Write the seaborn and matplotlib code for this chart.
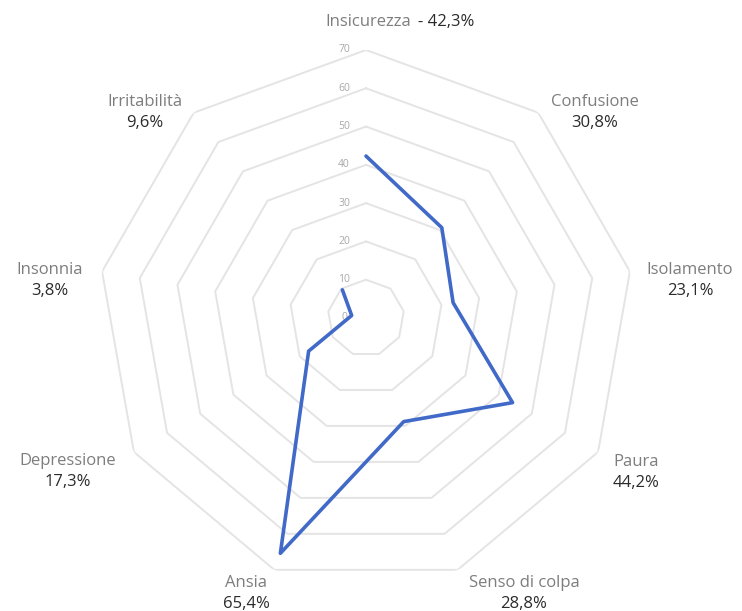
import numpy as np
import pandas as pd
import matplotlib
matplotlib.use("Agg")
import matplotlib.pyplot as plt
import seaborn as sns

categories = ["Insicurezza", "Confusione", "Isolamento", "Paura", "Senso di colpa",
              "Ansia", "Depressione", "Insonnia", "Irritabilità"]
values = [42.3, 30.8, 23.1, 44.2, 28.8, 65.4, 17.3, 3.8, 9.6]
value_labels = ["42,3%", "30,8%", "23,1%", "44,2%", "28,8%", "65,4%", "17,3%", "3,8%", "9,6%"]
ring_ticks = [0, 10, 20, 30, 40, 50, 60, 70]

sns.set_style("white")
plt.rcParams["font.family"] = ["Open Sans", "DejaVu Sans"]

W, H = 742, 611
fig = plt.figure(figsize=(W / 100, H / 100), dpi=100)
cx, cy, R = 366, 318, 268
ax = fig.add_axes([(cx - R) / W, (H - cy - R) / H, 2 * R / W, 2 * R / H], projection="polar")
ax.set_theta_offset(np.pi / 2)
ax.set_theta_direction(-1)
ax.set_ylim(0, 70)
ax.grid(False)
ax.spines["polar"].set_visible(False)
ax.set_xticks([])
ax.set_yticks([])

n = len(categories)
angles = np.linspace(0, 2 * np.pi, n, endpoint=False)
closed_angles = np.append(angles, angles[0])

grid_color = "#e4e4e4"
for r in ring_ticks[1:]:
    ax.plot(closed_angles, [r] * (n + 1), color=grid_color, lw=1.4, zorder=1)

for r in ring_ticks:
    ax.annotate(str(r), xy=(0, r), xytext=(-22, 0), textcoords="offset pixels",
                ha="center", va="center", fontsize=7.5, color="#a8a8a8", zorder=2)

df = pd.DataFrame({"theta": closed_angles, "value": values + [values[0]]})
sns.lineplot(data=df, x="theta", y="value", ax=ax, sort=False, color="#4169C8",
             lw=2.6, zorder=3)
ax.set_xlabel("")
ax.set_ylabel("")

name_color = "#7d7d7d"
val_color = "#2b2b2b"
fs = 12

def px(x, y):
    return x / W, 1 - y / H

# top label on one line
fig.text(*px(411, 22), categories[0], ha="right", va="center", fontsize=fs, color=name_color)
fig.text(*px(418, 22), "- " + value_labels[0], ha="left", va="center", fontsize=fs, color=val_color)

label_pos = [None, (595, 102), (690, 270), (636, 462), (524, 583), (246, 583),
             (68, 461), (50, 270), (145, 102)]
for i in range(1, n):
    x, y = label_pos[i]
    fig.text(*px(x, y), categories[i], ha="center", va="center", fontsize=fs, color=name_color)
    fig.text(*px(x, y + 21), value_labels[i], ha="center", va="center", fontsize=fs, color=val_color)

fig.savefig("out.png", dpi=100, facecolor="white")
